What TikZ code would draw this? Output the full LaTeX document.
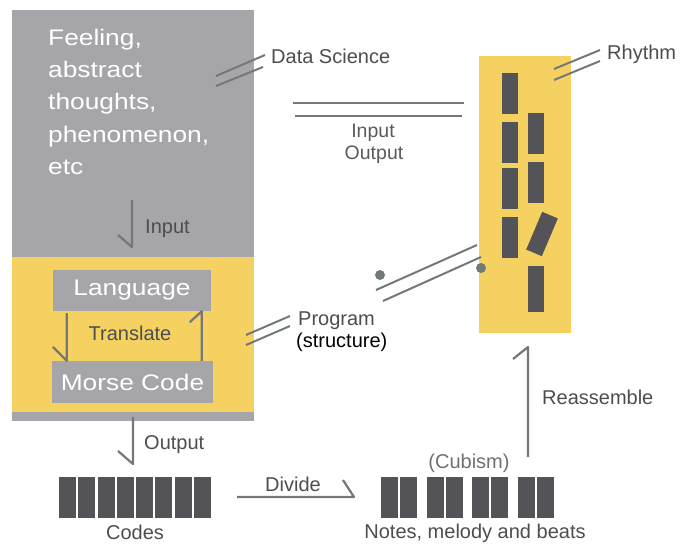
\documentclass[tikz,border=0pt]{standalone}
\usepackage{fontspec}
\setmainfont{Liberation Sans}
\newfontfamily\bigfont[FakeStretch=1.17]{Liberation Sans}
\usetikzlibrary{calc}
\definecolor{boxgray}{HTML}{A6A5AA}
\definecolor{ylw}{HTML}{F5D162}
\definecolor{dark}{HTML}{545358}
\definecolor{lgray}{HTML}{737878}
\definecolor{tgray}{HTML}{4D4D4D}
\definecolor{cgray}{HTML}{707070}
\tikzset{
  conn/.style={draw=lgray,line width=2.2pt,line join=round},
  mark2/.style={draw=lgray,line width=2pt},
  lbl/.style={inner sep=0pt,anchor=base west,text=tgray,font=\fontsize{20}{24}\selectfont},
  clbl/.style={inner sep=0pt,anchor=base,text=tgray,font=\fontsize{20}{24}\selectfont},
  whitebox/.style={fill=boxgray,text=white,inner sep=0pt,font=\bigfont\fontsize{22.5}{27}\selectfont},
  blk/.style={fill=dark,draw=none},
}
\begin{document}
\begin{tikzpicture}[x=1pt,y=-1pt]
\useasboundingbox (0,0) rectangle (683,544);
% big left panel
\fill[boxgray] (12,10) rectangle (254,421);
\fill[ylw] (12,257) rectangle (254,412);
\node[inner sep=0pt,anchor=north west,align=left,text=white,
  font=\bigfont\fontsize{22.5}{32.2}\selectfont] (feel) at (48,29)
  {Feeling,\\abstract\\thoughts,\\phenomenon,\\etc};
% Input arrow
\coordinate (ia) at (132,200);
\coordinate (ib) at (132,247);
\draw[conn] (ia) -- (ib) -- ++(-14,-12);
\node[lbl] (inl) at (145,233) {Input};
% Language / Morse boxes
\node[whitebox,minimum width=158pt,minimum height=41pt] (lang) at (132,290.5) {Language};
\node[whitebox,minimum width=161pt,minimum height=42pt] (morse) at (132.5,382) {Morse Code};
\node[clbl] (trans) at (130,340) {Translate};
\draw[conn] ($(lang.south west)+(14,2)$) coordinate (la) -- (la |- morse.north) -- ++(-14,-14);
\draw[conn] ($(morse.north west)+(150,0)$) coordinate (ma) -- (ma |- lang.south) -- ++(-12,11);
% Output arrow
\coordinate (oa) at (133,417);
\coordinate (ob) at (133,464);
\draw[conn] (oa) -- (ob) -- ++(-15,-13);
\node[lbl] (outl) at (144,449) {Output};
% Codes
\foreach \i in {0,...,7}{
  \fill[blk] ({59+19.29*\i},477) rectangle ++(17,41);
}
\node[clbl] (codes) at (135,539) {Codes};
% Divide
\coordinate (da) at (237,497);
\coordinate (db) at (354,497);
\draw[conn] (da) -- (db) -- ++(-11,-17);
\node[clbl] (divide) at (293,491) {Divide};
% Notes
\foreach \i in {0,...,3}{
  \fill[blk] ({381+45.7*\i},477) rectangle ++(17,41);
  \fill[blk] ({400+45.7*\i},477) rectangle ++(17,41);
}
\node[clbl,text=cgray] (cub) at (469,468) {(Cubism)};
\node[clbl] (notes) at (475,538) {Notes, melody and beats};
% Reassemble
\coordinate (ra) at (528,457);
\coordinate (rb) at (528,347);
\draw[conn] (ra) -- (rb) -- ++(-15,12);
\node[lbl] (reas) at (542,404) {Reassemble};
% Right yellow panel
\fill[ylw] (479,56) rectangle (571,333);
\fill[blk] (502,73) rectangle (518,114);
\fill[blk] (502,122) rectangle (518,163);
\fill[blk] (502,168) rectangle (518,209);
\fill[blk] (502,217) rectangle (518,258);
\fill[blk] (528,113) rectangle (544,154);
\fill[blk] (528,162) rectangle (544,203);
\node[blk,minimum width=17pt,minimum height=41pt,inner sep=0pt,rotate=-23] (tilt) at (542,234) {};
\fill[blk] (528,266) rectangle (544,312);
% marks and labels
\draw[mark2] (216,76) -- (265,55);
\draw[mark2] (216,86) -- (263,67);
\node[lbl] (ds) at (271,63) {Data Science};
\draw[mark2] (293,103) -- (464,103);
\draw[mark2] (295,116) -- (462,116);
\node[clbl,text=cgray!80!black,font=\fontsize{19.5}{22.5}\selectfont] (io1) at (373,137) {Input};
\node[clbl,text=cgray!80!black,font=\fontsize{19.5}{22.5}\selectfont] (io2) at (374,159) {Output};
\draw[mark2] (554,69) -- (600,50);
\draw[mark2] (554,80) -- (600,61);
\node[lbl] (rh) at (607,59) {Rhythm};
\draw[mark2] (246,335) -- (290,316);
\draw[mark2] (246,345) -- (290,326);
\node[lbl] (prog) at (298,325) {Program};
\node[lbl,text=black] (struct) at (296,347) {(structure)};
\fill[lgray] (380,275) circle (5);
\fill[lgray] (481,268) circle (5);
\draw[mark2] (376,290) -- (477,245);
\draw[mark2] (383,301) -- (481,257);
\end{tikzpicture}
\end{document}
